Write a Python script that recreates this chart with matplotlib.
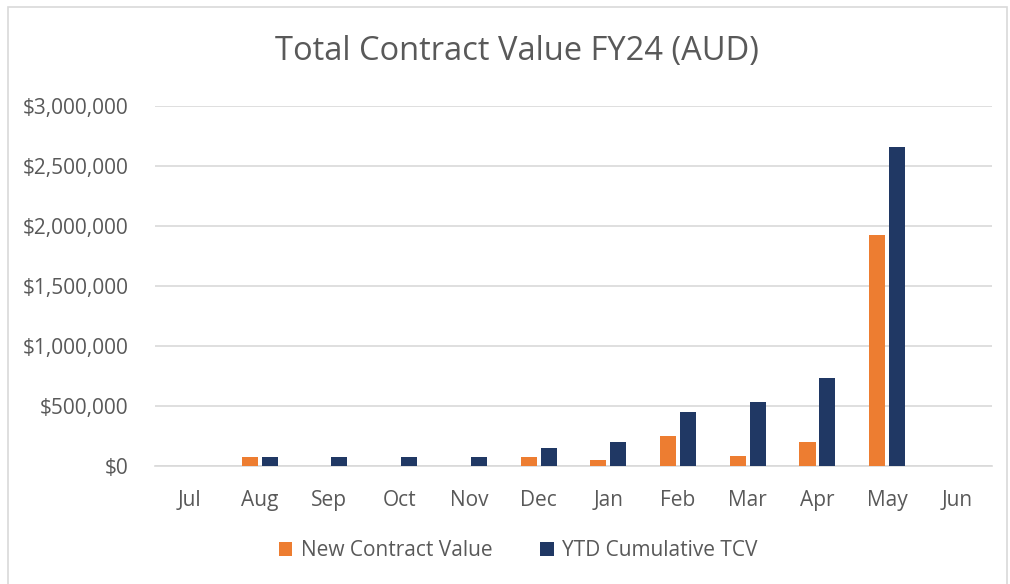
import matplotlib.pyplot as plt
import matplotlib.patches as patches
import numpy as np
from matplotlib.ticker import FuncFormatter

# Monthly values (AUD)
months = ["Jul", "Aug", "Sep", "Oct", "Nov", "Dec", "Jan", "Feb", "Mar", "Apr", "May", "Jun"]
new_contract = [0, 72500, 0, 0, 0, 77000, 53000, 247000, 83000, 200000, 1925000, 0]
ytd_cumulative = [0, 72500, 72500, 72500, 72500, 150000, 203000, 450000, 533000, 733000, 2658000, 0]

orange = "#ED7D31"
navy = "#203864"
grey_text = "#595959"

plt.rcParams['font.family'] = ['Open Sans', 'DejaVu Sans']

fig = plt.figure(figsize=(10.1, 5.84), dpi=100)
ax = fig.add_axes([0.1535, 0.202, 0.8285, 0.6165])

x = np.arange(len(months))
w = 0.23
ax.bar(x - 0.143, new_contract, w, color=orange, label="New Contract Value", zorder=3)
ax.bar(x + 0.143, ytd_cumulative, w, color=navy, label="YTD Cumulative TCV", zorder=3)

ax.set_xlim(-0.5, len(months) - 0.5)
ax.set_ylim(0, 3000000)
ax.set_yticks(np.arange(0, 3000001, 500000))
ax.yaxis.set_major_formatter(FuncFormatter(lambda v, p: "${:,.0f}".format(v)))
ax.set_xticks(x)
ax.set_xticklabels(months)

ax.grid(axis="y", color="#D9D9D9", linewidth=1.2, zorder=0)
for s in ["top", "right", "left"]:
    ax.spines[s].set_visible(False)
ax.spines["bottom"].set_color("#D9D9D9")
ax.spines["bottom"].set_linewidth(1.2)
ax.tick_params(axis="both", length=0, labelsize=15, colors=grey_text)
ax.tick_params(axis="y", pad=19)
ax.tick_params(axis="x", pad=17)

fig.text(0.512, 0.912, "Total Contract Value FY24 (AUD)", ha="center", va="center",
         fontsize=23.5, color=grey_text)

leg = fig.legend(loc="center", bbox_to_anchor=(0.513, 0.057), ncol=2, frameon=False,
                 fontsize=15, handlelength=0.65, handleheight=0.65, columnspacing=2.3,
                 handletextpad=0.4)
for t in leg.get_texts():
    t.set_color(grey_text)

fig.patches.append(patches.Rectangle((8 / 1010, -0.01), 999 / 1010, 1 - 7 / 584 + 0.01,
                                     transform=fig.transFigure, fill=False,
                                     edgecolor="#D9D9D9", linewidth=1.2))

fig.savefig("out.png", dpi=100)
